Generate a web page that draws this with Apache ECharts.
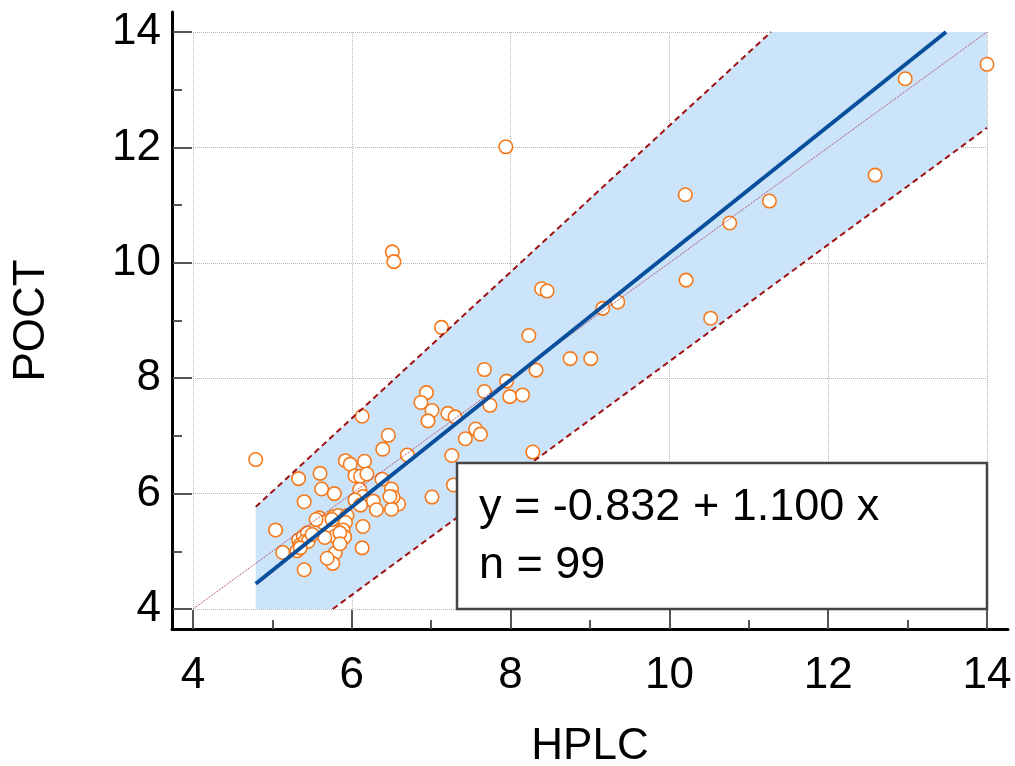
<!DOCTYPE html>
<html>
<head>
<meta charset="utf-8">
<script src="https://cdn.jsdelivr.net/npm/echarts@6/dist/echarts.min.js"></script>
<style>
  html, body { margin: 0; padding: 0; background: #fff; }
  #chart { width: 1015px; height: 766px; }
</style>
</head>
<body>
<div id="chart"></div>
<script>
// HPLC values (x)
var hplc = [
  4.79, 14.0, 12.97, 12.59, 11.26, 10.20, 10.21, 10.76, 10.52, 9.35,
  9.16, 6.51, 6.53, 7.13, 7.94, 8.39, 8.46, 8.23, 8.75, 9.01,
  7.67, 8.32, 7.95, 7.67, 7.99, 8.15, 7.74, 6.94, 6.87, 7.01,
  6.96, 7.21, 7.30, 7.56, 7.62, 7.43, 6.46, 6.39, 6.70, 7.26,
  8.28, 7.28, 7.01, 6.13, 6.59, 5.33, 5.60, 5.62, 5.78, 5.40,
  5.92, 5.98, 6.16, 6.04, 6.11, 6.19, 6.38, 6.10, 6.50, 6.14,
  6.27, 6.31, 6.52, 6.50, 5.77, 5.83, 5.94, 5.92, 6.14, 5.75,
  5.89, 5.79, 5.91, 6.13, 5.79, 5.76, 5.69, 5.04, 5.13, 5.31,
  5.33, 5.39, 5.44, 5.35, 5.41, 5.59, 5.64, 5.66, 5.40, 6.04,
  6.11, 5.45, 5.75, 5.50, 5.85, 6.48, 5.55, 5.35, 5.85
];
// POCT values (y)
var poct = [
  6.59, 13.44, 13.19, 11.52, 11.07, 11.18, 9.70, 10.69, 9.04, 9.32,
  9.21, 10.19, 10.02, 8.88, 12.01, 9.55, 9.51, 8.74, 8.34, 8.34,
  8.15, 8.14, 7.95, 7.77, 7.68, 7.71, 7.53, 7.75, 7.58, 7.44,
  7.26, 7.39, 7.33, 7.12, 7.03, 6.95, 7.01, 6.77, 6.67, 6.66,
  6.72, 6.15, 5.94, 7.34, 5.82, 6.26, 6.35, 6.08, 6.00, 5.86,
  6.57, 6.51, 6.56, 6.31, 6.30, 6.34, 6.25, 6.07, 6.08, 5.95,
  5.87, 5.72, 5.94, 5.73, 5.60, 5.62, 5.62, 5.50, 5.43, 5.37,
  5.37, 5.26, 5.25, 5.06, 4.97, 4.79, 4.88, 5.37, 4.98, 5.01,
  5.20, 5.26, 5.32, 5.11, 5.17, 5.58, 5.50, 5.24, 4.68, 5.89,
  5.80, 5.17, 5.55, 5.29, 5.32, 5.95, 5.55, 5.06, 5.13
];

// regression line y = a + b x
var intercept = -0.832;
var slope = 1.100;
var xFitStart = 4.79;

// limits of the shaded band
var upperLimit = [[4.79, 5.77], [11.28, 14]];
var lowerLimit = [[5.76, 4], [14, 12.34]];
var identity = [[4, 4], [14, 14]];

var axisTicks = [4, 6, 8, 10, 12, 14];

var FONT = "'Liberation Sans', Arial, sans-serif";

var points = hplc.map(function (x, i) { return [x, poct[i]]; });
var fitLine = [
  [xFitStart, intercept + slope * xFitStart],
  [(axisTicks[axisTicks.length - 1] - intercept) / slope, axisTicks[axisTicks.length - 1]]
];
// band polygon: left edge, upper limit, top-right corner, lower limit
var bandPoly = [
  [upperLimit[0][0], axisTicks[0]],
  upperLimit[0], upperLimit[1],
  [lowerLimit[1][0], upperLimit[1][1]],
  lowerLimit[1], lowerLimit[0]
];

var chart = echarts.init(document.getElementById('chart'));

var option = {
  animation: false,
  backgroundColor: '#fff',
  grid: [
    { left: 193, right: 28, top: 32, bottom: 157, outerBoundsMode: 'none' },
    { left: 172, right: 7, top: 12, bottom: 137, outerBoundsMode: 'none' }
  ],
  xAxis: [{
    type: 'value', gridIndex: 0,
    min: 4, max: 14, interval: 2,
    offset: 20,
    name: 'HPLC', nameLocation: 'middle', nameGap: 96,
    nameTextStyle: { fontSize: 44, color: '#000', fontFamily: FONT },
    axisLine: { show: false },
    axisTick: { show: true, inside: true, length: 19, lineStyle: { color: '#555', width: 2 } },
    minorTick: { show: true, splitNumber: 2, length: 9, lineStyle: { color: '#555', width: 2 } },
    axisLabel: { fontSize: 44, color: '#000', fontFamily: FONT, margin: 25 },
    splitLine: { show: true, lineStyle: { color: '#b5b5b5', type: 'dotted', width: 1 } }
  }, {
    type: 'value', gridIndex: 1, min: 0, max: 1,
    axisLine: { show: true, onZero: false, lineStyle: { color: '#000', width: 3 } },
    axisTick: { show: false }, axisLabel: { show: false }, splitLine: { show: false }
  }],
  yAxis: [{
    type: 'value', gridIndex: 0,
    min: 4, max: 14, interval: 2,
    offset: 20,
    name: 'POCT', nameLocation: 'middle', nameGap: 119,
    nameTextStyle: { fontSize: 44, color: '#000', fontFamily: FONT },
    axisLine: { show: false },
    axisTick: { show: true, inside: true, length: 19, lineStyle: { color: '#555', width: 2 } },
    minorTick: { show: true, splitNumber: 2, length: 9, lineStyle: { color: '#555', width: 2 } },
    axisLabel: { fontSize: 44, color: '#000', fontFamily: FONT, margin: 12 },
    splitLine: { show: true, lineStyle: { color: '#b5b5b5', type: 'dotted', width: 1 } }
  }, {
    type: 'value', gridIndex: 1, min: 0, max: 1,
    axisLine: { show: true, onZero: false, lineStyle: { color: '#000', width: 3 } },
    axisTick: { show: false }, axisLabel: { show: false }, splitLine: { show: false }
  }],
  series: [
    {
      type: 'custom',
      xAxisIndex: 0, yAxisIndex: 0,
      data: [0],
      silent: true,
      z: 1,
      renderItem: function (params, api) {
        return {
          type: 'polygon',
          shape: { points: bandPoly.map(function (p) { return api.coord(p); }) },
          style: { fill: '#cce4fa', stroke: null }
        };
      }
    },
    {
      type: 'scatter',
      data: points,
      symbol: 'circle',
      symbolSize: 13.5,
      z: 3,
      itemStyle: { color: '#fff', borderColor: '#f57a1c', borderWidth: 1.6, opacity: 1 }
    },
    {
      type: 'line', data: identity, symbol: 'none', z: 4,
      lineStyle: { color: '#a8304a', width: 1, type: 'dotted' }
    },
    {
      type: 'line', data: upperLimit, symbol: 'none', z: 4,
      lineStyle: { color: '#a01010', width: 2, type: [6, 4] }
    },
    {
      type: 'line', data: lowerLimit, symbol: 'none', z: 4,
      lineStyle: { color: '#a01010', width: 2, type: [6, 4] }
    },
    {
      type: 'line', data: fitLine, symbol: 'none', z: 5,
      lineStyle: { color: '#0a4f9c', width: 4 }
    }
  ],
  graphic: [
    {
      type: 'rect', z: 100,
      shape: { x: 457, y: 463, width: 530, height: 146 },
      style: { fill: '#fff', stroke: '#444', lineWidth: 2.5 }
    },
    {
      type: 'text', z: 101, x: 479, y: 508,
      style: { text: 'y = -0.832 + 1.100 x', font: '45px ' + FONT, fill: '#000', verticalAlign: 'middle' }
    },
    {
      type: 'text', z: 101, x: 479, y: 566,
      style: { text: 'n = 99', font: '45px ' + FONT, fill: '#000', verticalAlign: 'middle' }
    }
  ]
};

chart.setOption(option);
</script>
</body>
</html>
